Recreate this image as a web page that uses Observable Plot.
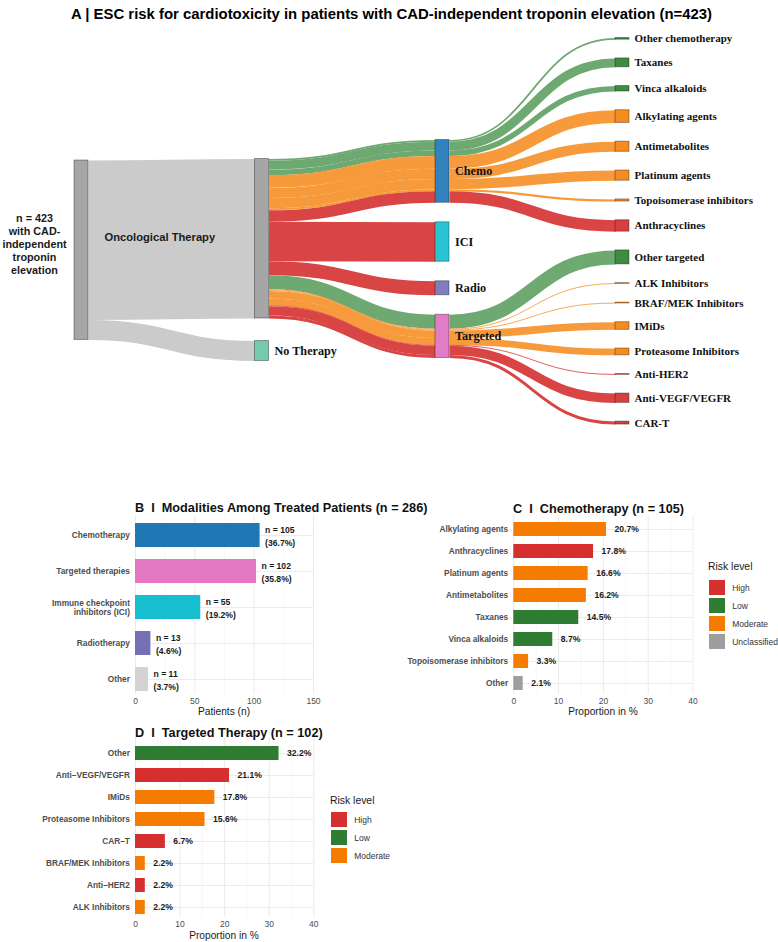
<!DOCTYPE html>
<html>
<head>
<meta charset="utf-8">
<script src="https://cdn.jsdelivr.net/npm/d3@7"></script>
<script src="https://cdn.jsdelivr.net/npm/@observablehq/plot@0.6"></script>
<style>
  body { margin: 0; background: #fff; }
  #fig { position: relative; width: 778px; height: 942px; overflow: hidden; background: #fff;
         font-family: "Liberation Sans", Arial, sans-serif; }
  #fig > * { position: absolute; }
  .lbl { line-height: 1; white-space: pre; }
</style>
</head>
<body>
<div id="fig"></div>
<script>
// ---------------- Panel A: flows through the treatment pathway ----------------
const cohortTotal = 423;
const cohortLabel = "n = 423\nwith CAD-\nindependent\ntroponin\nelevation";
const therapyGroups = ["Oncological Therapy", "No Therapy"];
const therapyFlow = [376, 47];
const modalityNames = ["Chemo", "ICI", "Radio", "Targeted"];
const singleFlow = [93, 33];            // ICI, Radio
const chemoClasses = ["Other chemotherapy", "Taxanes", "Vinca alkaloids", "Alkylating agents",
  "Antimetabolites", "Platinum agents", "Topoisomerase inhibitors", "Anthracyclines"];
const chemoFlow = [4, 21, 13, 30, 24, 24, 5, 27];
const chemoClassRisk = ["Low", "Low", "Low", "Moderate", "Moderate", "Moderate", "Moderate", "High"];
const targetedClasses = ["Other targeted", "ALK Inhibitors", "BRAF/MEK Inhibitors", "IMiDs",
  "Proteasome Inhibitors", "Anti-HER2", "Anti-VEGF/VEGFR", "CAR-T"];
const targetedFlow = [33, 2, 2, 18, 16, 2, 22, 7];
const targetedClassRisk = ["Low", "Moderate", "Moderate", "Moderate", "Moderate", "High", "High", "High"];

// ---------------- Panel B: modalities ----------------
const modalities = ["Chemotherapy", "Targeted therapies", "Immune checkpoint\ninhibitors (ICI)", "Radiotherapy", "Other"];
const modalityCounts = [105, 102, 55, 13, 11];
const modalityPct = [36.7, 35.8, 19.2, 4.6, 3.7];
const modalityColors = ["#1f77b4", "#e377c2", "#17becf", "#7570b3", "#d3d3d3"];

// ---------------- Panel C: chemotherapy classes ----------------
const chemoBars = ["Alkylating agents", "Anthracyclines", "Platinum agents", "Antimetabolites",
  "Taxanes", "Vinca alkaloids", "Topoisomerase inhibitors", "Other"];
const chemoPct = [20.7, 17.8, 16.6, 16.2, 14.5, 8.7, 3.3, 2.1];
const chemoRisk = ["Moderate", "High", "Moderate", "Moderate", "Low", "Low", "Moderate", "Unclassified"];

// ---------------- Panel D: targeted therapy classes ----------------
const targetedBars = ["Other", "Anti\u2013VEGF/VEGFR", "IMiDs", "Proteasome Inhibitors", "CAR\u2013T",
  "BRAF/MEK Inhibitors", "Anti\u2013HER2", "ALK Inhibitors"];
const targetedPct = [32.2, 21.1, 17.8, 15.6, 6.7, 2.2, 2.2, 2.2];
const targetedRisk = ["Low", "High", "Moderate", "Moderate", "High", "Moderate", "High", "Moderate"];

const riskLevels = ["High", "Low", "Moderate", "Unclassified"];
const riskColors = ["#d62f2f", "#2e7d32", "#f57c00", "#9e9e9e"];

// ---------------- helpers ----------------
const fig = document.getElementById("fig");
const SANS = "Liberation Sans, Arial, sans-serif";
const SERIF = "Liberation Serif, Times New Roman, serif";

function put(el, left, top) {
  el.style.left = left + "px";
  el.style.top = top + "px";
  fig.appendChild(el);
  return el;
}
// text whose visual centre sits at (x, yc)
function label(str, x, yc, {size = 10, weight = "normal", anchor = "start", color = "#000"} = {}) {
  const d = document.createElement("div");
  d.className = "lbl";
  d.textContent = str;
  d.style.fontSize = size + "px";
  d.style.fontWeight = weight;
  d.style.color = color;
  if (anchor === "middle") d.style.transform = "translateX(-50%)";
  if (anchor === "end") d.style.transform = "translateX(-100%)";
  return put(d, x, yc - size * 0.5);
}

// ---------------- Panel A layout (stacked nodes, stacked link offsets) ----------------
const nodeFill = {gray: "#a6a6a6", none: "#74caad", Chemo: "#3182bd", ICI: "#2ac3d4", Radio: "#807cbf", Targeted: "#e07dc5",
  Low: "#3d8c41", Moderate: "#f68b1f", High: "#d6403f"};
const linkFill = {gray: "#cbcbcb", Low: "#6ea971", Moderate: "#f79a3b", High: "#d94445"};

const layout = {nodeWidth: 14, colX: [74, 254.5, 435, 615], colTop: [160, 158.5, 139.5, 37.5],
  colGap: [0, 22.5, 19.5, 18.7], ky: 0.4243};

const nodes = [], links = [], byKey = new Map();
function addNode(key, name, col, color, kind) {
  const n = {key, name, col, color, kind, sourceLinks: [], targetLinks: []};
  nodes.push(n); byKey.set(key, n); return n;
}
function addLink(s, t, value, color) {
  const l = {source: byKey.get(s), target: byKey.get(t), value, color};
  l.source.sourceLinks.push(l); l.target.targetLinks.push(l); links.push(l);
}
addNode("cohort", cohortLabel, 0, nodeFill.gray, "cohort");
addNode("onc", therapyGroups[0], 1, nodeFill.gray, "onc");
addNode("none", therapyGroups[1], 1, nodeFill.none, "mid");
modalityNames.forEach(m => addNode(m, m, 2, nodeFill[m], "mid"));
chemoClasses.forEach((c, i) => addNode("c:" + c, c, 3, nodeFill[chemoClassRisk[i]], "leaf"));
targetedClasses.forEach((c, i) => addNode("t:" + c, c, 3, nodeFill[targetedClassRisk[i]], "leaf"));

addLink("cohort", "onc", therapyFlow[0], linkFill.gray);
addLink("cohort", "none", therapyFlow[1], linkFill.gray);
chemoClasses.forEach((c, i) => addLink("onc", "Chemo", chemoFlow[i], linkFill[chemoClassRisk[i]]));
addLink("onc", "ICI", singleFlow[0], linkFill.High);
addLink("onc", "Radio", singleFlow[1], linkFill.High);
targetedClasses.forEach((c, i) => addLink("onc", "Targeted", targetedFlow[i], linkFill[targetedClassRisk[i]]));
chemoClasses.forEach((c, i) => addLink("Chemo", "c:" + c, chemoFlow[i], linkFill[chemoClassRisk[i]]));
targetedClasses.forEach((c, i) => addLink("Targeted", "t:" + c, targetedFlow[i], linkFill[targetedClassRisk[i]]));

for (const n of nodes) {
  n.value = Math.max(d3.sum(n.sourceLinks, l => l.value), d3.sum(n.targetLinks, l => l.value));
}
for (let c = 0; c < 4; c++) {
  let y = layout.colTop[c];
  for (const n of nodes.filter(n => n.col === c)) {
    n.x0 = layout.colX[c]; n.x1 = n.x0 + layout.nodeWidth;
    n.y0 = y; n.y1 = y + n.value * layout.ky;
    y = n.y1 + layout.colGap[c];
  }
}
for (const n of nodes) {
  let sy = n.y0, ty = n.y0;
  for (const l of n.sourceLinks) { l.w = l.value * layout.ky; l.ys = sy + l.w / 2; sy += l.w; }
  for (const l of n.targetLinks) { l.w = l.value * layout.ky; l.yt = ty + l.w / 2; ty += l.w; }
}
const cohortNode = byKey.get("cohort");
const mid = n => (n.y0 + n.y1) / 2;

// title
label("A | ESC risk for cardiotoxicity in patients with CAD-independent troponin elevation (n=423)",
  391.5, 14, {size: 14.9, weight: "bold", anchor: "middle"});

const sankey = Plot.plot({
  width: 778, height: 450, margin: 0,
  x: {type: "identity", axis: null},
  y: {type: "identity", axis: null},
  color: {type: "identity"},
  style: {background: "transparent", overflow: "visible"},
  marks: [
    Plot.link(links, {x1: l => l.source.x1, y1: "ys", x2: l => l.target.x0, y2: "yt",
      stroke: "color", strokeWidth: "w", curve: "bump-x"}),
    Plot.rect(nodes, {x1: "x0", x2: "x1", y1: "y0", y2: "y1", fill: "color",
      stroke: "#000", strokeOpacity: 0.35, strokeWidth: 1}),
    Plot.text(nodes.filter(n => n.kind === "leaf"), {x: n => n.x1 + 5, y: mid, text: "name",
      textAnchor: "start", fontFamily: SERIF, fontWeight: "bold", fontSize: 11, fill: "#111"}),
    Plot.text(nodes.filter(n => n.kind === "mid"), {x: n => n.x1 + 5.5, y: mid, text: "name",
      textAnchor: "start", fontFamily: SERIF, fontWeight: "bold", fontSize: 12.2, fill: "#111"}),
    Plot.text(nodes.filter(n => n.kind === "onc"), {x: () => cohortNode.x1 + 16, y: n => mid(n) - 1.5, text: "name",
      textAnchor: "start", fontFamily: SANS, fontWeight: "bold", fontSize: 11.2, fill: "#1a1a1a"}),
    Plot.text([cohortNode], {x: n => n.x0 - 40, y: n => mid(n) - 6.7, text: "name", lineHeight: 1.21,
      textAnchor: "middle", fontFamily: SANS, fontWeight: "bold", fontSize: 10.8, fill: "#1a1a1a"})
  ]
});
put(sankey, 0, 0);

// ---------------- bar panels ----------------
const GRID = "#ebebeb", MINOR = "#f3f3f3";

function barPanel({cats, values, fills, colorScale, text, dx, lineHeight = 1, xDomain, xTicks, minor,
                   width, height, marginLeft, marginRight, marginTop, marginBottom, yRange, padding}) {
  const data = cats.map((c, i) => ({cat: c, v: values[i], f: fills[i], t: text[i]}));
  return Plot.plot({
    width, height, marginLeft, marginRight, marginTop, marginBottom,
    style: {fontFamily: SANS, background: "transparent", overflow: "visible"},
    x: {domain: xDomain, axis: null},
    y: {domain: cats, range: yRange, paddingInner: padding, paddingOuter: 0, axis: null},
    color: colorScale,
    marks: [
      Plot.ruleX(minor, {stroke: MINOR, strokeWidth: 0.7}),
      Plot.gridX({ticks: xTicks, stroke: GRID, strokeOpacity: 1, strokeWidth: 1}),
      Plot.gridY({stroke: GRID, strokeOpacity: 1, strokeWidth: 1}),
      Plot.barX(data, {x: "v", y: "cat", fill: "f"}),
      Plot.text(data, {x: "v", y: "cat", text: "t", dx, textAnchor: "start", lineHeight,
        fontWeight: "bold", fontSize: 8.6, fill: "#1a1a1a"}),
      Plot.axisX({ticks: xTicks, tickSize: 0, tickPadding: 3, fontSize: 8.5, color: "#4d4d4d", label: null}),
      Plot.axisY({tickSize: 0, tickPadding: 5.6, fontSize: 8.3, fontWeight: "bold", lineHeight: 1.12,
        color: "#4d4d4d", label: null})
    ]
  });
}

function riskLegend(levels, left, top) {
  label("Risk level", left - 1, top - 11.5, {size: 10.4, color: "#1a1a1a"});
  const step = 18.3, box = 15.3;
  const lg = Plot.plot({
    width: 16 + 75, height: (levels.length - 1) * step + box + 2, margin: 0, marginRight: 75,
    style: {fontFamily: SANS, background: "transparent", overflow: "visible"},
    x: {domain: [0, 1], axis: null},
    y: {domain: levels, range: [0, (levels.length - 1) * step + box], paddingInner: 1 - box / step, paddingOuter: 0, axis: null},
    color: {domain: riskLevels, range: riskColors},
    marks: [
      Plot.barX(levels, {x1: 0, x2: 1, y: d => d, fill: d => d}),
      Plot.axisY({anchor: "right", tickSize: 0, tickPadding: 6.7, fontSize: 8.5, color: "#333", label: null})
    ]
  });
  put(lg, left, top);
}

// Panel B
label("B  I  Modalities Among Treated Patients (n = 286)", 135, 508, {size: 12.7, weight: "bold", color: "#111"});
put(barPanel({
  cats: modalities, values: modalityCounts, fills: modalityColors,
  colorScale: {type: "identity"},
  text: modalityCounts.map((n, i) => `n = ${n}\n(${modalityPct[i].toFixed(1)}%)`), dx: 5, lineHeight: 1.45,
  xDomain: [0, 150], xTicks: [0, 50, 100, 150], minor: [25, 75, 125],
  width: 400, height: 220, marginLeft: 135, marginRight: 87, marginTop: 15, marginBottom: 26,
  yRange: [21.7, 191.5], padding: 0.34
}), 0, 500);
label("Patients (n)", 224, 711.7, {size: 10.2, anchor: "middle", color: "#1a1a1a"});

// Panel C
label("C  I  Chemotherapy (n = 105)", 513, 509, {size: 12.7, weight: "bold", color: "#111"});
put(barPanel({
  cats: chemoBars, values: chemoPct, fills: chemoRisk,
  colorScale: {domain: riskLevels, range: riskColors},
  text: chemoPct.map(v => v.toFixed(1) + "%"), dx: 8,
  xDomain: [0, 40], xTicks: [0, 10, 20, 30, 40], minor: [5, 15, 25, 35],
  width: 378, height: 220, marginLeft: 113.3, marginRight: 85.5, marginTop: 15, marginBottom: 26,
  yRange: [21.7, 190.6], padding: 0.353
}), 400, 500);
label("Proportion in %", 603, 712, {size: 10.2, anchor: "middle", color: "#1a1a1a"});
riskLegend(riskLevels, 709, 579);

// Panel D
label("D  I  Targeted Therapy (n = 102)", 135, 733.3, {size: 12.7, weight: "bold", color: "#111"});
put(barPanel({
  cats: targetedBars, values: targetedPct, fills: targetedRisk,
  colorScale: {domain: riskLevels, range: riskColors},
  text: targetedPct.map(v => v.toFixed(1) + "%"), dx: 8,
  xDomain: [0, 40], xTicks: [0, 10, 20, 30, 40], minor: [5, 15, 25, 35],
  width: 400, height: 217, marginLeft: 135, marginRight: 86.7, marginTop: 12, marginBottom: 25,
  yRange: [21, 190], padding: 0.353
}), 0, 725);
label("Proportion in %", 224, 936, {size: 10.2, anchor: "middle", color: "#1a1a1a"});
riskLegend(["High", "Low", "Moderate"], 331, 812.3);
</script>
</body>
</html>
